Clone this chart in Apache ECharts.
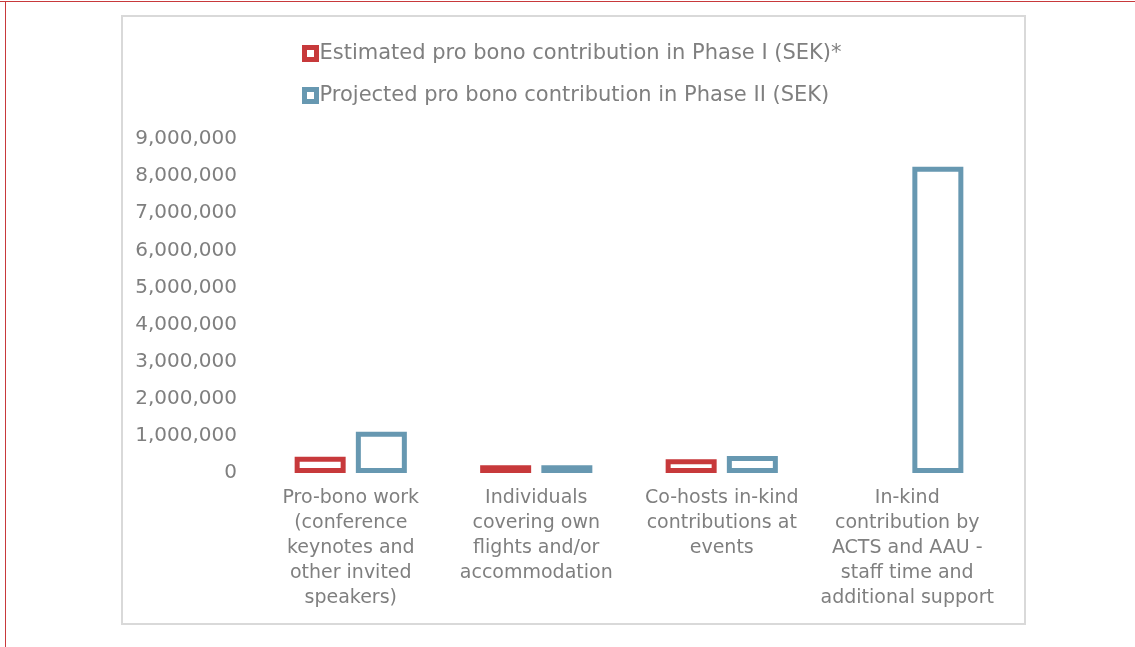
<!DOCTYPE html>
<html>
<head>
<meta charset="utf-8">
<script src="https://cdn.jsdelivr.net/npm/echarts@6/dist/echarts.min.js"></script>
<style>
  html, body { margin: 0; padding: 0; background: #fff; }
  #main { width: 1135px; height: 647px; }
</style>
</head>
<body>
<div id="main"></div>
<script>
// 数据
var categories = [
  'Pro-bono work\n(conference\nkeynotes and\nother invited\nspeakers)',
  'Individuals\ncovering own\nflights and/or\naccommodation',
  'Co-hosts in-kind\ncontributions at\nevents',
  'In-kind\ncontribution by\nACTS and AAU -\nstaff time and\nadditional support'
];
var seriesNames = [
  'Estimated pro bono contribution in Phase I (SEK)*',
  'Projected pro bono contribution in Phase II (SEK)'
];
var phase1 = [440000, 210000, 370000, null];
var phase2 = [1110000, 210000, 460000, 8250000];

var textColor = '#7f7f7f';
var fontName = 'DejaVu Sans';
var colors = ['#c7393b', '#6798b1'];

var chart = echarts.init(document.getElementById('main'));

function barStyle(color) {
  return {
    color: '#ffffff',
    borderColor: color,
    borderWidth: 5
  };
}

var option = {
  animation: false,
  textStyle: { fontFamily: fontName },
  graphic: [
    // 外框
    { type: 'rect', shape: { x: 0, y: 1, width: 1135, height: 1 }, style: { fill: '#c8393b' } },
    { type: 'rect', shape: { x: 5, y: 1, width: 1, height: 646 }, style: { fill: '#c8393b' } },
    // 图表区域边框
    { type: 'rect', shape: { x: 122, y: 16, width: 903, height: 608 }, style: { fill: 'none', stroke: '#d9d9d9', lineWidth: 2 }, z: -1 }
  ],
  legend: {
    orient: 'vertical',
    left: 302,
    top: 43,
    padding: 0,
    itemWidth: 12,
    itemHeight: 12,
    itemGap: 21,
    icon: 'rect',
    textStyle: { color: textColor, fontSize: 21, fontFamily: fontName, padding: [0, 0, 0, -2] },
    data: [
      { name: seriesNames[0], itemStyle: barStyle(colors[0]) },
      { name: seriesNames[1], itemStyle: barStyle(colors[1]) }
    ]
  },
  grid: {
    left: 258,
    right: 135,
    top: 139,
    bottom: 174,
    containLabel: false
  },
  xAxis: {
    type: 'category',
    data: categories,
    axisLine: { show: false },
    axisTick: { show: false },
    axisLabel: {
      color: textColor,
      fontSize: 19,
      lineHeight: 25,
      margin: 13,
      interval: 0,
      fontFamily: fontName
    }
  },
  yAxis: {
    type: 'value',
    min: 0,
    max: 9000000,
    interval: 1000000,
    splitLine: { show: false },
    axisLine: { show: false },
    axisTick: { show: false },
    axisLabel: {
      color: textColor,
      fontSize: 20,
      margin: 21,
      fontFamily: fontName,
      formatter: function (v) {
        return v.toString().replace(/\B(?=(\d{3})+(?!\d))/g, ',');
      }
    }
  },
  series: [
    {
      name: seriesNames[0],
      type: 'bar',
      data: phase1,
      barWidth: 51,
      barGap: '20%',
      itemStyle: barStyle(colors[0])
    },
    {
      name: seriesNames[1],
      type: 'bar',
      data: phase2,
      barWidth: 51,
      itemStyle: barStyle(colors[1])
    }
  ]
};

chart.setOption(option);
</script>
</body>
</html>
